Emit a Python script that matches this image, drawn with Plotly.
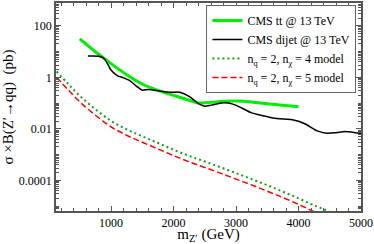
import plotly.graph_objects as go

# CMS ttbar limit @ 13 TeV
tt_mass = [500, 750, 1000, 1250, 1500, 1750, 2000, 2250, 2400, 2600, 2800, 3000, 3250, 3500, 3750, 4000]
tt_xsec = [30.9, 9.8, 3.4, 1.26, 0.55, 0.31, 0.20, 0.129, 0.100, 0.107, 0.117, 0.120, 0.110, 0.095, 0.083, 0.072]

# CMS dijet limit @ 13 TeV
dj_mass = [630, 800, 880, 950, 1000, 1100, 1200, 1300, 1400, 1500, 1600, 1800, 1950, 2100, 2250, 2400,
           2500, 2600, 2800, 2950, 3100, 3250, 3400, 3650, 3900, 4100, 4300, 4450, 4600, 4750, 5000]
dj_xsec = [6.76, 6.61, 5.62, 3.16, 1.91, 1.17, 0.955, 0.741, 0.468, 0.316, 0.339, 0.288, 0.263, 0.263, 0.182, 0.0955,
           0.0759, 0.0832, 0.102, 0.0912, 0.0631, 0.0417, 0.0339, 0.0251, 0.0224, 0.0158, 0.00832, 0.00676, 0.00708, 0.00794, 0.00661]

# model predictions
model_mass = [130, 300, 500, 750, 1000, 1250, 1500, 1750, 2000, 2250, 2500, 2750, 3000, 3250, 3500, 3750, 4000, 4250, 4500]
model4_xsec = [1.70, 0.603, 0.191, 0.0575, 0.0204, 0.00955, 0.00513, 0.00282, 0.00155, 0.000891, 0.000537, 0.000324,
               0.000191, 0.000112, 6.46e-5, 3.63e-5, 2.0e-5, 1.07e-5, 6.0e-6]
model5_xsec = [1.0, 0.355, 0.112, 0.0339, 0.0120, 0.00562, 0.00302, 0.00166, 0.000912, 0.000525, 0.000316, 0.000191,
               0.000112, 6.61e-5, 3.80e-5, 2.14e-5, 1.17e-5, 6.03e-6, 3.16e-6]

x_ticks = [1000, 2000, 3000, 4000, 5000]
x_minor = [v for v in range(200, 5001, 200)]
y_ticks = [1e-4, 1e-2, 1, 100]
y_ticktext = ["0.0001", "0.01", "1", "100"]
y_minor = [m * 10 ** e for e in range(-6, 3) for m in range(1, 10)]

FONT = "Liberation Serif"
AX = "#555555"

fig = go.Figure()
fig.add_trace(go.Scatter(x=tt_mass, y=tt_xsec, mode="lines", name="CMS tt @ 13 TeV",
                         line=dict(color="#00ee00", width=3, shape="spline", smoothing=0.6)))
fig.add_trace(go.Scatter(x=dj_mass, y=dj_xsec, mode="lines", name="CMS dijet @ 13 TeV",
                         line=dict(color="black", width=1.5, shape="spline", smoothing=0.8)))
fig.add_trace(go.Scatter(x=model_mass, y=model4_xsec, mode="lines",
                         name="n<sub>q</sub> = 2, n<sub>χ</sub> = 4 model",
                         line=dict(color="#1a9a1a", width=2, dash="2px,3px", shape="spline")))
fig.add_trace(go.Scatter(x=model_mass, y=model5_xsec, mode="lines",
                         name="n<sub>q</sub> = 2, n<sub>χ</sub> = 5 model",
                         line=dict(color="#ff0000", width=1.5, dash="6px,3px", shape="spline")))

fig.update_layout(
    width=374, height=244,
    margin=dict(l=56, r=13, t=1, b=33),
    paper_bgcolor="white", plot_bgcolor="white",
    font=dict(family=FONT, size=12, color="black"),
    showlegend=True,
    legend=dict(x=0.985, y=0.99, xanchor="right", yanchor="top",
                bgcolor="white", bordercolor="#666666", borderwidth=1,
                font=dict(family=FONT, size=12), itemwidth=30, tracegroupgap=0),
    xaxis=dict(type="linear", range=[120, 5000], tickvals=x_ticks,
               showgrid=False, zeroline=False, showline=True, linecolor=AX, linewidth=1.5,
               mirror="ticks", ticks="inside", ticklen=5, tickcolor=AX, tickwidth=1,
               minor=dict(tickmode="array", tickvals=x_minor, ticks="inside", ticklen=3, tickcolor=AX, tickwidth=1),
               tickfont=dict(family=FONT, size=12),
               title=dict(text="m<sub>Z′</sub> (GeV)", font=dict(family=FONT, size=15), standoff=2)),
    yaxis=dict(type="log", range=[-5.19, 2.885], tickvals=y_ticks, ticktext=y_ticktext,
               showgrid=False, zeroline=False, showline=True, linecolor=AX, linewidth=1.5,
               mirror="ticks", ticks="inside", ticklen=5, tickcolor=AX, tickwidth=1,
               minor=dict(tickmode="array", tickvals=y_minor, ticks="inside", ticklen=3, tickcolor=AX, tickwidth=1),
               tickfont=dict(family=FONT, size=12),
               title=dict(text="σ ×B(Z′→qq)  (pb)", font=dict(family=FONT, size=15), standoff=6)),
)

fig.write_html("out.html", config={"displayModeBar": False},
               post_script="document.body.style.margin='0';document.body.style.overflow='hidden';")
